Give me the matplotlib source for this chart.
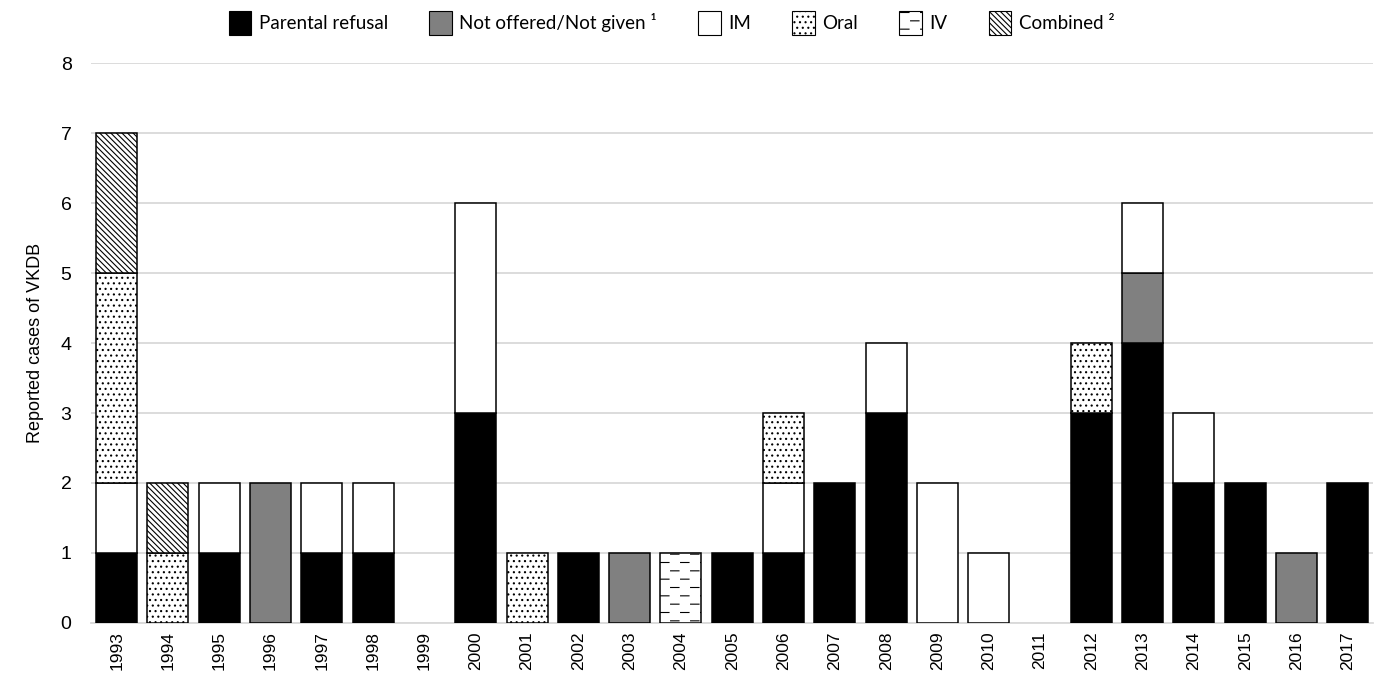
import warnings
import numpy as np
import matplotlib
matplotlib.use('Agg')
import matplotlib.pyplot as plt
import matplotlib.hatch as mhatch
from matplotlib.patches import Patch

warnings.filterwarnings('ignore')

years = [str(y) for y in range(1993, 2018)]
parental_refusal = [1, 0, 1, 0, 1, 1, 0, 3, 0, 1, 0, 0, 1, 1, 2, 3, 0, 0, 0, 3, 4, 2, 2, 0, 2]
not_offered = [0, 0, 0, 2, 0, 0, 0, 0, 0, 0, 1, 0, 0, 0, 0, 0, 0, 0, 0, 0, 1, 0, 0, 1, 0]
im = [1, 0, 1, 0, 1, 1, 0, 3, 0, 0, 0, 0, 0, 1, 0, 1, 2, 1, 0, 0, 1, 1, 0, 0, 0]
oral = [3, 1, 0, 0, 0, 0, 0, 0, 1, 0, 0, 0, 0, 1, 0, 0, 0, 0, 0, 1, 0, 0, 0, 0, 0]
iv = [0, 0, 0, 0, 0, 0, 0, 0, 0, 0, 0, 1, 0, 0, 0, 0, 0, 0, 0, 0, 0, 0, 0, 0, 0]
combined = [2, 1, 0, 0, 0, 0, 0, 0, 0, 0, 0, 0, 0, 0, 0, 0, 0, 0, 0, 0, 0, 0, 0, 0, 0]


# short staggered dashes, used for the IV bars ('_' in a hatch string)
class DashHatch(mhatch.HatchPatternBase):
    def __init__(self, hatch, density):
        self.num_rows = hatch.count('_') * density
        self.num_cols = max(self.num_rows * 5 // 12, 1)
        self.num_vertices = self.num_rows * self.num_cols * 2

    def set_vertices_and_codes(self, vertices, codes):
        k = 0
        for i in range(self.num_rows):
            y = (i + 0.5) / self.num_rows
            shift = 0.5 if i % 2 else 0.0
            for j in range(self.num_cols):
                x0 = (j + shift + 0.03) / self.num_cols
                x1 = x0 + 0.42 / self.num_cols
                vertices[k] = (x0, y)
                vertices[k + 1] = (x1, y)
                codes[k] = 1   # MOVETO
                codes[k + 1] = 2  # LINETO
                k += 2


mhatch._hatch_types.append(DashHatch)

plt.rcParams['font.family'] = ['Liberation Sans', 'DejaVu Sans']
plt.rcParams['hatch.linewidth'] = 0.8

series = [
    ('Parental refusal', parental_refusal, 'black', None),
    ('Not offered/Not given \u00b9', not_offered, '#808080', None),
    ('IM', im, 'white', None),
    ('Oral', oral, 'white', '...'),
    ('IV', iv, 'white', '__'),
    ('Combined \u00b2', combined, 'white', '\\' * 6),
]

fig = plt.figure(figsize=(13.79, 6.80), dpi=100)
ax = fig.add_axes([0.066, 0.084, 0.930, 0.823])

x = np.arange(len(years))
bottom = np.zeros(len(years))
handles = []
for label, vals, color, hatch in series:
    vals = np.array(vals, dtype=float)
    lw = [1.1 if v > 0 else 0 for v in vals]
    ax.bar(x, vals, width=0.8, bottom=bottom, color=color, edgecolor='black',
           linewidth=lw, hatch=hatch, zorder=3)
    bottom += vals
    handles.append(Patch(facecolor=color, edgecolor='black', linewidth=0.8,
                         hatch=hatch, label=label))

ax.set_xlim(-0.5, len(years) - 0.5)
ax.set_ylim(0, 8)
ax.set_yticks(range(0, 9))
ax.set_xticks(x)
ax.set_xticklabels(years, rotation=90, fontsize=12.5)
ax.tick_params(axis='y', labelsize=14, length=0, pad=14)
ax.tick_params(axis='x', length=0, pad=6)
ax.grid(axis='y', color='#d9d9d9', linewidth=1.3, zorder=0)
for s in ['top', 'right', 'left']:
    ax.spines[s].set_visible(False)
ax.spines['bottom'].set_color('#d9d9d9')
ax.spines['bottom'].set_linewidth(1.3)
ax.set_ylabel('Reported cases of VKDB', fontsize=13, labelpad=12)

fig.legend(handles=handles, loc='center', bbox_to_anchor=(0.487, 0.966), ncol=6,
           frameon=False, prop={'family': ['Lato', 'DejaVu Sans'], 'size': 13.5},
           handlelength=1.2, handleheight=1.6, handletextpad=0.4, columnspacing=2.2)

fig.savefig('out.png', dpi=100)
